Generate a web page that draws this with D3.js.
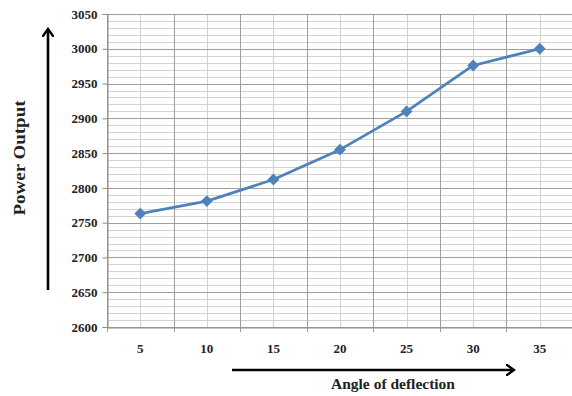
<!DOCTYPE html>
<html>
<head>
<meta charset="utf-8">
<script src="https://cdn.jsdelivr.net/npm/d3@7"></script>
<style>
  html, body { margin: 0; padding: 0; background: #fff; }
  svg { display: block; }
  text { font-family: "Liberation Serif", "Times New Roman", serif; font-weight: bold; fill: #222; }
</style>
</head>
<body>
<svg id="chart" width="572" height="396"></svg>
<script>
// Angle of deflection (degrees) against power output
const angles = [5, 10, 15, 20, 25, 30, 35];
const powerOutput = [2763, 2781, 2812, 2855, 2910, 2976, 3000];
const yTicks = [2600, 2650, 2700, 2750, 2800, 2850, 2900, 2950, 3000, 3050];
const xTitle = "Angle of deflection";
const yTitle = "Power Output";

const svg = d3.select("#chart");
const plot = { left: 107, right: 573, top: 14, bottom: 327 };

const x = d3.scaleBand().domain(angles).range([plot.left, plot.right]).padding(0);
const y = d3.scaleLinear().domain([2600, 3050]).range([plot.bottom, plot.top]);

const grid = svg.append("g");

// minor horizontal gridlines every 10 units
const minorY = d3.range(2600, 3051, 10).filter(v => v % 50 !== 0);
grid.selectAll(".hminor").data(minorY).join("line")
  .attr("x1", plot.left).attr("x2", plot.right)
  .attr("y1", d => Math.round(y(d)) + 0.5).attr("y2", d => Math.round(y(d)) + 0.5)
  .attr("stroke", "#d2d2d2").attr("stroke-width", 1);

// minor vertical gridlines through each category centre
grid.selectAll(".vminor").data(angles).join("line")
  .attr("x1", d => Math.round(x(d) + x.bandwidth() / 2) + 0.5)
  .attr("x2", d => Math.round(x(d) + x.bandwidth() / 2) + 0.5)
  .attr("y1", plot.top).attr("y2", plot.bottom)
  .attr("stroke", "#d2d2d2").attr("stroke-width", 1);

// major horizontal gridlines
grid.selectAll(".hmajor").data(yTicks).join("line")
  .attr("x1", plot.left).attr("x2", plot.right)
  .attr("y1", d => Math.round(y(d)) + 0.5).attr("y2", d => Math.round(y(d)) + 0.5)
  .attr("stroke", "#9e9e9e").attr("stroke-width", 1);

// major vertical gridlines on category boundaries
const bounds = angles.map(a => x(a)).concat([plot.right]);
grid.selectAll(".vmajor").data(bounds).join("line")
  .attr("x1", d => Math.round(d) + 0.5).attr("x2", d => Math.round(d) + 0.5)
  .attr("y1", plot.top).attr("y2", plot.bottom + 5)
  .attr("stroke", "#9e9e9e").attr("stroke-width", 1);

// y axis
const yAxis = svg.append("g")
  .attr("transform", `translate(${plot.left + 0.5},0)`)
  .call(d3.axisLeft(y).tickValues(yTicks).tickSize(5).tickPadding(5).tickFormat(d3.format("d")))
  .attr("font-family", null).attr("font-size", null);
yAxis.select(".domain").attr("stroke", "#8c8c8c");
yAxis.selectAll(".tick line").attr("stroke", "#8c8c8c");
yAxis.selectAll(".tick text")
  .attr("font-size", 13).attr("fill", "#1a1a1a")
  .attr("font-family", "Liberation Serif").attr("font-weight", "bold");

// x axis (tick labels at category centres)
const xAxis = svg.append("g")
  .attr("transform", `translate(0,${plot.bottom + 0.5})`)
  .call(d3.axisBottom(x).tickSize(0).tickPadding(16))
  .attr("font-family", null).attr("font-size", null);
xAxis.select(".domain").attr("stroke", "#8c8c8c");
xAxis.selectAll(".tick text")
  .attr("font-size", 13).attr("fill", "#1a1a1a")
  .attr("font-family", "Liberation Serif").attr("font-weight", "bold");

// data line with diamond markers
const cx = d => x(d) + x.bandwidth() / 2;
const pts = angles.map((a, i) => [cx(a), y(powerOutput[i])]);
svg.append("path")
  .attr("d", d3.line()(pts))
  .attr("fill", "none").attr("stroke", "#4f81bd").attr("stroke-width", 2.75)
  .attr("stroke-linejoin", "round");
svg.selectAll(".marker").data(pts).join("path")
  .attr("transform", d => `translate(${d[0]},${d[1]})`)
  .attr("d", d3.symbol(d3.symbolDiamond2, 90)())
  .attr("fill", "#4f81bd");

// axis titles with arrows
const defs = svg.append("defs");
defs.append("marker")
  .attr("id", "head").attr("viewBox", "0 0 10 12")
  .attr("refX", 8).attr("refY", 6)
  .attr("markerWidth", 10).attr("markerHeight", 12)
  .attr("markerUnits", "userSpaceOnUse").attr("orient", "auto")
  .append("path").attr("d", "M1,1 L8,6 L1,11")
  .attr("fill", "none").attr("stroke", "#000").attr("stroke-width", 2.4)
  .attr("stroke-linecap", "round").attr("stroke-linejoin", "miter");

svg.append("line")
  .attr("x1", 48).attr("y1", 290).attr("x2", 48).attr("y2", 29)
  .attr("stroke", "#000").attr("stroke-width", 2.6)
  .attr("marker-end", "url(#head)");
svg.append("line")
  .attr("x1", 232).attr("y1", 370).attr("x2", 514).attr("y2", 370)
  .attr("stroke", "#000").attr("stroke-width", 2.6)
  .attr("marker-end", "url(#head)");

svg.append("text")
  .attr("transform", "translate(25,158) rotate(-90)")
  .attr("text-anchor", "middle").attr("font-size", 16)
  .attr("textLength", 115).attr("lengthAdjust", "spacingAndGlyphs")
  .text(yTitle);

svg.append("text")
  .attr("x", 393).attr("y", 389)
  .attr("text-anchor", "middle").attr("font-size", 15.5)
  .text(xTitle);
</script>
</body>
</html>
